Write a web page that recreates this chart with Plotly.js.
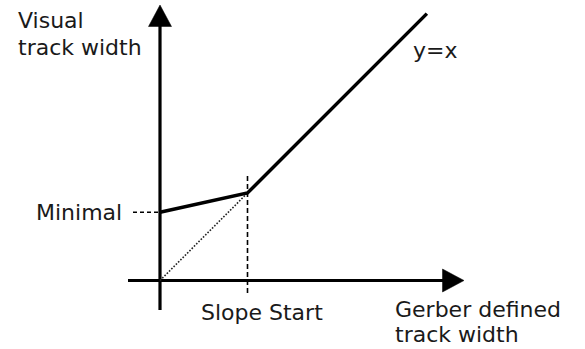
<!DOCTYPE html>
<html>
<head>
<meta charset="utf-8">
<script src="https://cdn.plot.ly/plotly-3.0.1.min.js"></script>
<style>
  html, body { margin: 0; padding: 0; background: #fff; }
  #chart { width: 585px; height: 349px; }
</style>
</head>
<body>
<div id="chart"></div>
<script>
// ---- Data (abstract units: Slope Start = 1) ----
const minimalWidth = 0.78;        // visual width at zero gerber width
const slopeStart = 1;             // gerber width where curve meets y = x
const curveEnd = 3.05;            // end of drawn y = x segment
const curveX = [0, slopeStart, curveEnd];
const curveY = [minimalWidth, slopeStart, curveEnd];
const identityX = [0, slopeStart];
const identityY = [0, slopeStart];
const yTitleLines = ["Visual", "track width"];
const xTitleLines = ["Gerber defined", "track width"];
const minimalLabel = "Minimal";
const slopeLabel = "Slope Start";
const identityLabel = "y=x";

// ---- Geometry (pixel mapping of the sketch) ----
const W = 585, H = 349;
const S = 87.5;              // px per unit
const OX = 160, OY = 280.5;  // origin pixel
const px2x = p => (p - OX) / S;
const py2y = p => (OY - p) / S;

const xAxisFrom = px2x(128), xAxisTip = px2x(464);
const yAxisFrom = py2y(310), yAxisTip = py2y(5);
const headLen = 21.5 / S, headHalf = 11.5 / S;

const black = "#000";
const traces = [
  // x axis
  {x: [xAxisFrom, xAxisTip - headLen * 0.5], y: [0, 0], mode: "lines",
   line: {color: black, width: 3.2}},
  // y axis
  {x: [0, 0], y: [yAxisFrom, yAxisTip - headLen * 0.5], mode: "lines",
   line: {color: black, width: 3.2}},
  // x arrow head
  {x: [xAxisTip, xAxisTip - headLen, xAxisTip - headLen, xAxisTip],
   y: [0, headHalf, -headHalf, 0], mode: "lines", fill: "toself",
   fillcolor: black, line: {color: black, width: 0.5}},
  // y arrow head
  {x: [0, headHalf, -headHalf, 0],
   y: [yAxisTip, yAxisTip - headLen, yAxisTip - headLen, yAxisTip], mode: "lines", fill: "toself",
   fillcolor: black, line: {color: black, width: 0.5}},
  // dashed guide: Minimal
  {x: [px2x(133), 0], y: [minimalWidth, minimalWidth], mode: "lines",
   line: {color: black, width: 1.6, dash: "4px,3px"}},
  // dashed guide: Slope Start
  {x: [slopeStart, slopeStart], y: [py2y(293), py2y(173)], mode: "lines",
   line: {color: black, width: 1.6, dash: "5px,3px"}},
  // dotted y = x below slope start
  {x: identityX, y: identityY, mode: "lines",
   line: {color: "#222", width: 1.6, dash: "1.6px,1.6px"}},
  // main curve
  {x: curveX, y: curveY, mode: "lines",
   line: {color: black, width: 3.5}}
];

const font = {family: "DejaVu Sans, Verdana, sans-serif", size: 22, color: "#1a1a1a"};
const ann = (text, xp, yp, xa) => ({
  text: text, x: px2x(xp), y: py2y(yp), xref: "x", yref: "y",
  xanchor: xa, yanchor: "middle", showarrow: false, borderpad: 0, font: font
});

const layout = {
  width: W, height: H,
  margin: {l: 0, r: 0, t: 0, b: 0},
  paper_bgcolor: "#fff", plot_bgcolor: "#fff",
  showlegend: false,
  xaxis: {range: [px2x(0), px2x(W)], visible: false, fixedrange: true},
  yaxis: {range: [py2y(H), py2y(0)], visible: false, fixedrange: true},
  annotations: [
    ann(yTitleLines[0], 17, 20, "left"),
    ann(yTitleLines[1], 17, 47, "left"),
    ann(minimalLabel, 123, 212, "right"),
    ann(slopeLabel, 262, 312, "center"),
    ann(xTitleLines[0], 394, 309, "left"),
    ann(xTitleLines[1], 394, 334, "left"),
    ann(identityLabel, 412, 50, "left")
  ]
};

Plotly.newPlot("chart", traces, layout, {staticPlot: true, displayModeBar: false});
</script>
</body>
</html>
